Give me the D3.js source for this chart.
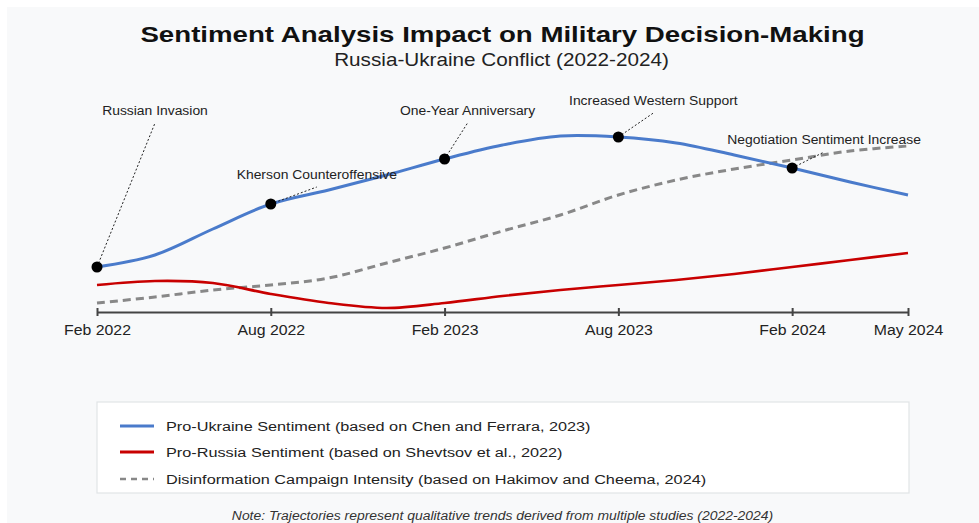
<!DOCTYPE html>
<html>
<head>
<meta charset="utf-8">
<script src="https://cdn.jsdelivr.net/npm/d3@7"></script>
<style>
  html, body { margin: 0; padding: 0; background: #ffffff; }
  svg { display: block; }
</style>
</head>
<body>
<svg id="chart" width="979" height="523"></svg>
<script>
// ---- data ----
const months = [0, 2, 4, 6, 8, 10, 12, 14, 16, 18, 20, 22, 24, 26, 28];
const proUkraine = [22.5, 28.5, 41.5, 54, 61, 68.5, 76.5, 83.5, 88, 87.5, 84.5, 78.5, 72, 65, 58.5];
const proRussia = [13.5, 15.5, 14.5, 9, 4.5, 2, 4.5, 8, 11, 13.5, 16, 19, 22.5, 26, 29.5];
const disinformation = [4.5, 7.5, 11, 13.5, 17, 24.5, 32, 40.5, 48.5, 58.5, 66, 71.5, 76, 80.5, 83];
const tickMonths = [0, 6, 12, 18, 24, 28];
const tickLabels = ["Feb 2022", "Aug 2022", "Feb 2023", "Aug 2023", "Feb 2024", "May 2024"];
const eventLabels = ["Russian Invasion", "Kherson Counteroffensive", "One-Year Anniversary", "Increased Western Support", "Negotiation Sentiment Increase"];
const eventMonths = [0, 6, 12, 18, 24];
const seriesNames = [
  "Pro-Ukraine Sentiment (based on Chen and Ferrara, 2023)",
  "Pro-Russia Sentiment (based on Shevtsov et al., 2022)",
  "Disinformation Campaign Intensity (based on Hakimov and Cheema, 2024)"
];

// ---- layout / style ----
const W = 979, H = 523;
const FONT = "'Liberation Sans', Arial, sans-serif";
const calloutOffsets = [[58, -144], [46, -17], [23, -36], [35, -24], [32, -16]];
const series = [
  { name: seriesNames[0], values: proUkraine, color: "#4a7bcb", dash: null, width: 3 },
  { name: seriesNames[1], values: proRussia, color: "#c80000", dash: null, width: 2.6 },
  { name: seriesNames[2], values: disinformation, color: "#888888", dash: "8,5", width: 3 }
];

// horizontally stretch a text element around its anchor
function stretch(sel, factor) {
  sel.each(function () {
    const len = this.getComputedTextLength();
    d3.select(this).attr("textLength", len * factor).attr("lengthAdjust", "spacingAndGlyphs");
  });
  return sel;
}

const svg = d3.select("#chart");
svg.append("rect").attr("x", 7).attr("y", 7).attr("width", W - 7).attr("height", H - 7).attr("fill", "#f8f9fa");

const x = d3.scaleLinear().domain([0, 28]).range([97, 908]);
const y = d3.scaleLinear().domain([0, 100]).range([312, 112]);

// title
stretch(svg.append("text").attr("x", 502.5).attr("y", 42).attr("text-anchor", "middle")
  .attr("font-family", FONT).attr("font-weight", "bold").attr("font-size", 22.3)
  .attr("fill", "#111").text("Sentiment Analysis Impact on Military Decision-Making"), 1.24);
stretch(svg.append("text").attr("x", 501.5).attr("y", 66).attr("text-anchor", "middle")
  .attr("font-family", FONT).attr("font-size", 17.7)
  .attr("fill", "#222").text("Russia-Ukraine Conflict (2022-2024)"), 1.17);

// lines
const line = d3.line().x((d, i) => x(months[i])).y(d => y(d)).curve(d3.curveCatmullRom.alpha(0.5));
[series[2], series[1], series[0]].forEach(s => {
  svg.append("path").datum(s.values)
    .attr("d", line).attr("fill", "none")
    .attr("stroke", s.color).attr("stroke-width", s.width)
    .attr("stroke-dasharray", s.dash);
});

// axis
const axis = d3.axisBottom(x).tickValues(tickMonths).tickFormat((d, i) => tickLabels[i]).tickSizeInner(4).tickSizeOuter(0).tickPadding(9);
const gAxis = svg.append("g").attr("transform", "translate(0,312)").call(axis);
gAxis.select(".domain").attr("stroke", "#444").attr("stroke-width", 2.2);
gAxis.selectAll(".tick line").attr("stroke", "#444").attr("stroke-width", 2).attr("y1", -4).attr("y2", 4);
stretch(gAxis.selectAll(".tick text").attr("font-family", FONT).attr("font-size", 14).attr("fill", "#222").attr("dy", "0.71em"), 1.13);

// annotations
eventLabels.forEach((lab, i) => {
  const m = eventMonths[i];
  const cx = x(m), cy = y(proUkraine[months.indexOf(m)]);
  const ex = cx + calloutOffsets[i][0], ey = cy + calloutOffsets[i][1];
  svg.append("line").attr("x1", cx).attr("y1", cy).attr("x2", ex).attr("y2", ey)
    .attr("stroke", "#222").attr("stroke-width", 1).attr("stroke-dasharray", "2,2");
  svg.append("circle").attr("cx", cx).attr("cy", cy).attr("r", 5.5).attr("fill", "#000");
  stretch(svg.append("text").attr("x", ex).attr("y", ey - 8).attr("text-anchor", "middle")
    .attr("font-family", FONT).attr("font-size", 12.5).attr("fill", "#222").text(lab), 1.11);
});

// legend
svg.append("rect").attr("x", 97).attr("y", 402).attr("width", 812).attr("height", 91)
  .attr("fill", "#ffffff").attr("stroke", "#e2e4e6").attr("stroke-width", 1.2);
const legendY = [426, 452, 479];
series.forEach((s, i) => {
  svg.append("line").attr("x1", 120).attr("x2", 154).attr("y1", legendY[i]).attr("y2", legendY[i])
    .attr("stroke", s.color).attr("stroke-width", s.dash ? 2.5 : 3).attr("stroke-dasharray", s.dash ? "6,5" : null);
  stretch(svg.append("text").attr("x", 166).attr("y", legendY[i] + 4.5)
    .attr("font-family", FONT).attr("font-size", 12.5)
    .attr("fill", "#222").text(s.name), 1.3);
});

// note
stretch(svg.append("text").attr("x", 502.5).attr("y", 520).attr("text-anchor", "middle")
  .attr("font-family", FONT).attr("font-style", "italic").attr("font-size", 12)
  .attr("fill", "#333").text("Note: Trajectories represent qualitative trends derived from multiple studies (2022-2024)"), 1.16);
</script>
</body>
</html>
